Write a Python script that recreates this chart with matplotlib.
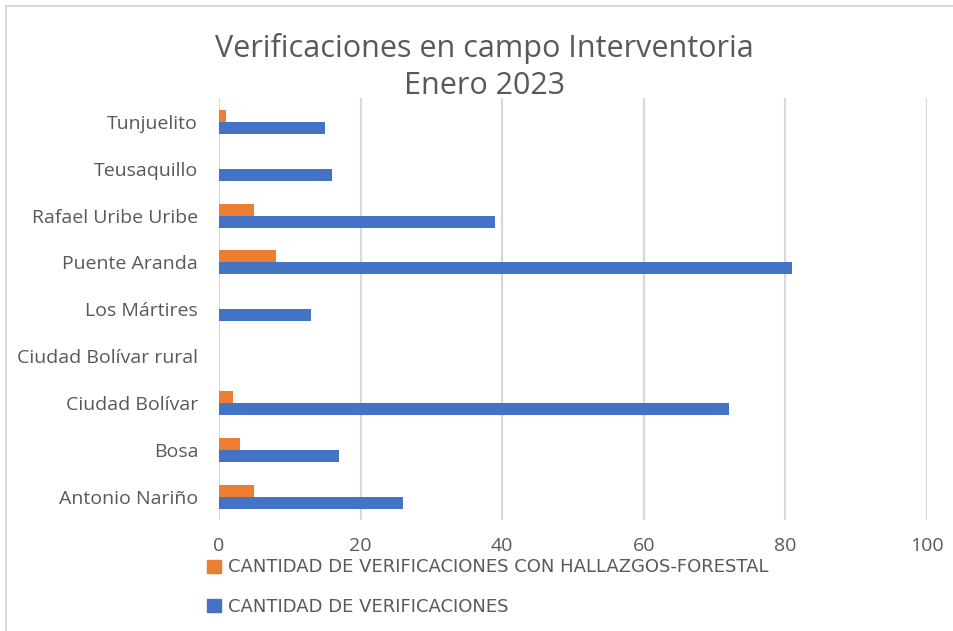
import matplotlib.pyplot as plt
from matplotlib.patches import Patch

# Data (bottom to top, as shown on the y axis)
localidades = ['Antonio Nariño', 'Bosa', 'Ciudad Bolívar', 'Ciudad Bolívar rural',
               'Los Mártires', 'Puente Aranda', 'Rafael Uribe Uribe', 'Teusaquillo', 'Tunjuelito']
verificaciones = [26, 17, 72, 0, 13, 81, 39, 16, 15]
hallazgos_forestal = [5, 3, 2, 0, 0, 8, 5, 0, 1]
x_ticks = [0, 20, 40, 60, 80, 100]

label_hallazgos = 'CANTIDAD DE VERIFICACIONES CON HALLAZGOS-FORESTAL'
label_verif = 'CANTIDAD DE VERIFICACIONES'

blue = '#4472C4'
orange = '#ED7D31'
gray_text = '#595959'
grid_col = '#D9D9D9'

plt.rcParams['font.family'] = ['Open Sans', 'DejaVu Sans']

fig = plt.figure(figsize=(9.54, 6.31), dpi=100)
ax = fig.add_axes([0.2296, 0.176, 0.742, 0.668])

h = 0.256
ypos = list(range(len(localidades)))
ax.barh([y - h / 2 for y in ypos], verificaciones, height=h, color=blue, zorder=3)
ax.barh([y + h / 2 for y in ypos], hallazgos_forestal, height=h, color=orange, zorder=3)

ax.set_xlim(0, 100)
ax.set_ylim(-0.5, len(localidades) - 0.5)
ax.set_xticks(x_ticks)
ax.set_yticks(ypos)
ax.set_yticklabels(localidades)
ax.grid(axis='x', color=grid_col, linewidth=1.6, zorder=0)
ax.tick_params(axis='both', length=0, colors=gray_text, labelsize=14)
ax.tick_params(axis='y', pad=15)
ax.tick_params(axis='x', pad=12)
for s in ax.spines.values():
    s.set_visible(False)

fig.text(0.508, 0.894, 'Verificaciones en campo Interventoria\nEnero 2023',
         ha='center', va='center', fontsize=22, color=gray_text, linespacing=1.33)

handles = [Patch(color=orange, label=label_hallazgos), Patch(color=blue, label=label_verif)]
fig.legend(handles=handles, loc='upper left', bbox_to_anchor=(0.217, 0.115),
           frameon=False, labelcolor=gray_text,
           handlelength=0.75, handleheight=0.75, handletextpad=0.4, labelspacing=1.2,
           borderpad=0, borderaxespad=0,
           prop={'family': 'DejaVu Sans', 'size': 13})

# outer chart border (only visible on left and top in the picture)
fig.add_artist(plt.Line2D([6 / 954, 6 / 954], [0, 1 - 6 / 631], color='#D9D9D9', linewidth=1.5))
fig.add_artist(plt.Line2D([6 / 954, 1], [1 - 6 / 631, 1 - 6 / 631], color='#D9D9D9', linewidth=1.5))

fig.savefig('out.png', dpi=100, facecolor='white')
